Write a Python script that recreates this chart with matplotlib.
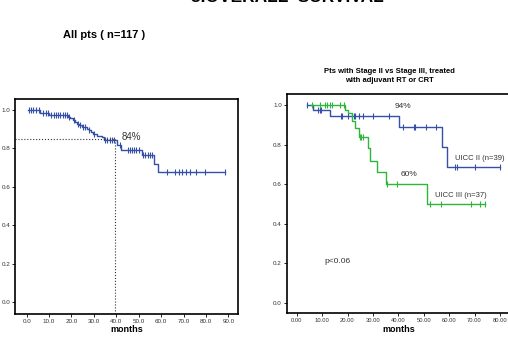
import numpy as np
import matplotlib
matplotlib.use('Agg')
import matplotlib.pyplot as plt

plt.rcParams['font.family'] = ['Liberation Sans', 'DejaVu Sans']

"""
Kaplan-Meier read off the picture: event times, survival after each event,
censor times (months)
"""
all_evt_t = [6.0, 10.0, 18.5, 19.5, 20.5, 21.5, 22.5, 23.5, 24.5, 26.8, 27.6, 28.5, 29.5, 31.2, 33.5, 34.7,
             40.5, 42.0, 51.3, 57.0, 58.5]
all_surv = [0.984, 0.974, 0.965, 0.956, 0.947, 0.938, 0.929, 0.920, 0.911, 0.902, 0.893, 0.884, 0.875,
            0.866, 0.857, 0.846, 0.818, 0.793, 0.763, 0.717, 0.676]
all_cens = [1.0, 2.0, 3.0, 4.0, 5.5, 7.5, 8.5, 9.5, 11.0, 12.0, 13.0, 14.0, 15.0, 16.0, 17.0, 18.0,
            19.0, 21.0, 23.0, 24.0, 25.0, 26.0, 28.0, 30.0, 35.0, 36.0, 37.0, 38.0, 39.0, 41.5,
            45.0, 46.0, 47.0, 48.0, 49.0, 50.0, 52.0, 53.0, 54.0, 55.0, 56.0,
            62.5, 66.0, 68.0, 69.5, 71.0, 73.0, 75.5, 79.5, 88.5]
all_end = 88.5

st2_evt_t = [6.5, 13.0, 40.3, 57.3, 59.0]
st2_surv = [0.974, 0.946, 0.887, 0.789, 0.688]
st2_cens = [3.9, 8.5, 9.0, 9.5, 17.5, 18.0, 20.0, 22.5, 23.0, 24.5, 26.0, 30.0, 36.5,
            42.0, 46.0, 46.5, 51.0, 55.0, 62.5, 63.0, 70.0, 80.0]
st2_end = 80.0

st3_evt_t = [19.0, 20.0, 21.6, 23.0, 24.5, 28.2, 28.9, 31.8, 35.0, 51.4]
st3_surv = [0.975, 0.960, 0.921, 0.882, 0.836, 0.784, 0.718, 0.659, 0.602, 0.499]
st3_cens = [6.0, 9.0, 11.0, 12.0, 13.0, 14.0, 17.0, 18.5, 25.0, 25.5, 26.0,
            35.5, 39.5, 52.5, 57.0, 68.5, 72.0, 74.0]
st3_end = 74.0

y_ticks = [0.0, 0.2, 0.4, 0.6, 0.8, 1.0]
left_xticks = [0, 10, 20, 30, 40, 50, 60, 70, 80, 90]
right_xticks = [0, 10, 20, 30, 40, 50, 60, 70, 80]

blue = '#3550a8'
green = '#2eb53c'


def km(ax, evt_t, surv, cens, end, color, start=0.0):
    t = np.r_[start, evt_t, end]
    s = np.r_[1.0, surv, surv[-1]]
    ax.step(t, s, where='post', color=color, lw=1.0)
    cy = np.r_[1.0, surv][np.searchsorted(evt_t, cens, side='right')]
    ax.plot(cens, cy, ls='none', marker='|', ms=4, mew=0.8, color=color)


def style(ax, xticks, fmt, fs):
    ax.set_yticks(y_ticks)
    ax.set_yticklabels(['%.1f' % v for v in y_ticks], fontsize=4.5, color='#333333')
    ax.set_xticks(xticks)
    ax.set_xticklabels([fmt % v for v in xticks], fontsize=fs, color='#333333')
    ax.tick_params(direction='out', length=2.5, width=0.6, pad=1)
    for sp in ax.spines.values():
        sp.set_linewidth(1.2)
    ax.set_xlabel('months', fontsize=6.5, fontweight='bold', labelpad=1)


fig = plt.figure(figsize=(5.08, 3.41), dpi=100)

# section heading sits mostly above the canvas, as in the source slide
fig.text(287 / 508, 1.0 - 2 / 341, '3.OVERALL  SURVIVAL', fontsize=12.5, fontweight='bold',
         ha='center', va='baseline')
fig.text(63 / 508, 1 - 35 / 341, 'All pts ( n=117 )', fontsize=8, fontweight='bold',
         ha='left', va='center')
fig.text(389 / 508, 1 - 76 / 341, 'Pts with Stage II vs Stage III, treated\nwith adjuvant RT or CRT',
         fontsize=5.5, fontweight='bold', ha='center', va='center', linespacing=1.3)

# left panel: all patients
ax1 = fig.add_axes([15 / 508, 1 - 314 / 341, 223 / 508, 215 / 341])
km(ax1, all_evt_t, all_surv, all_cens, all_end, blue, start=0.7)
ax1.plot([-5.2, 39.2], [0.85, 0.85], ls=':', color='#333333', lw=0.8)
ax1.plot([39.2, 39.2], [0.85, -0.07], ls=':', color='#333333', lw=0.8)
ax1.text(42.5, 0.86, '84%', fontsize=7, color='#333333', va='center')
ax1.set_xlim(-5.2, 94.3)
ax1.set_ylim(-0.0625, 1.057)
style(ax1, left_xticks, '%.1f', 4.5)

# right panel: stage II vs III (right spine runs off the canvas)
ax2 = fig.add_axes([286.7 / 508, 1 - 313.3 / 341, 224 / 508, 219 / 341])
km(ax2, st2_evt_t, st2_surv, st2_cens, st2_end, blue, start=3.9)
km(ax2, st3_evt_t, st3_surv, st3_cens, st3_end, green, start=5.5)
ax2.text(38.7, 0.99, '94%', fontsize=6, color='#333333', va='center')
ax2.text(40.9, 0.65, '60%', fontsize=6, color='#333333', va='center')
ax2.text(62.3, 0.73, 'UICC II (n=39)', fontsize=5.5, color='#333333', va='center')
ax2.text(54.4, 0.54, 'UICC III (n=37)', fontsize=5.5, color='#333333', va='center')
ax2.text(11.1, 0.21, 'p<0.06', fontsize=6, color='#333333', va='center')
ax2.set_xlim(-3.94, 84.25)
ax2.set_ylim(-0.0536, 1.054)
style(ax2, right_xticks, '%.2f', 4.2)

fig.savefig('out.png', dpi=100)
